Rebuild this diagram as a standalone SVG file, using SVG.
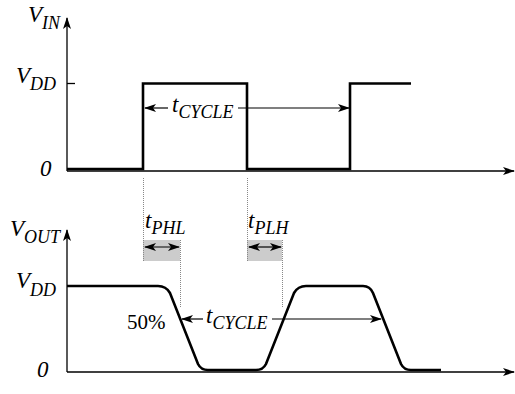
<svg xmlns="http://www.w3.org/2000/svg" width="515" height="394" viewBox="0 0 515 394">
<defs>
<style>
.axis{stroke:#000;stroke-width:1.3;fill:none;}
.wave{stroke:#000;stroke-width:2.6;fill:none;stroke-linejoin:miter;}
.arr{stroke:#000;stroke-width:1.2;fill:none;}
.dot{stroke:#888;stroke-width:1;stroke-dasharray:1 1;fill:none;}
.box{fill:#cccccc;}
</style>
<marker id="ah" viewBox="0 0 12 8" refX="11" refY="4" markerWidth="12" markerHeight="8" markerUnits="userSpaceOnUse" orient="auto-start-reverse">
<path d="M0,0 L12,4 L0,8 L3,4 Z" fill="#000"/>
</marker>
</defs>
<rect width="515" height="394" fill="#fff"/>

<g id="top-plot" font-family="'Liberation Serif', 'DejaVu Serif', serif" font-style="italic">
<line class="axis" x1="67" y1="171" x2="67" y2="18" marker-end="url(#ah)"/>
<line class="axis" x1="67" y1="171" x2="514" y2="171" marker-end="url(#ah)"/>
<line class="axis" x1="67" y1="83.5" x2="75" y2="83.5"/>
<text x="28" y="22" font-size="23">V<tspan dy="7" font-size="18">IN</tspan></text>
<text x="16" y="83" font-size="23">V<tspan dy="7" font-size="18">DD</tspan></text>
<text x="40" y="176" font-size="23">0</text>
</g>
<g id="vin-wave">
<path class="wave" d="M67,169 H143 V83.5 H247 V169 H350 V83.5 H411"/>
</g>

<g id="bottom-plot" font-family="'Liberation Serif', 'DejaVu Serif', serif" font-style="italic">
<line class="axis" x1="67" y1="372" x2="67" y2="230" marker-end="url(#ah)"/>
<line class="axis" x1="67" y1="372" x2="514" y2="372" marker-end="url(#ah)"/>
<text x="10" y="236" font-size="23">V<tspan dy="7" font-size="18">OUT</tspan></text>
<text x="16" y="288" font-size="23">V<tspan dy="8" font-size="18">DD</tspan></text>
<text x="37" y="377" font-size="23">0</text>
</g>
<g id="vout-wave">
<path class="wave" d="M67,286 H158 Q166,286 170,293 L198,364 Q201,370 208,370 H256 Q263,370 266,364 L294,293 Q298,286 306,286 H363 Q370,286 373,293 L401,364 Q404,370 411,370 H441"/>
</g>

<g id="tphl" font-family="'Liberation Serif', 'DejaVu Serif', serif" font-style="italic">
<rect class="box" x="143" y="240" width="37" height="21"/>
<text x="145" y="228" font-size="23">t<tspan dy="6" font-size="18">PHL</tspan></text>
</g>
<g id="tplh" font-family="'Liberation Serif', 'DejaVu Serif', serif" font-style="italic">
<rect class="box" x="247" y="240" width="35" height="21"/>
<text x="248" y="228" font-size="23">t<tspan dy="6" font-size="18">PLH</tspan></text>
</g>
<g id="tcycle-top" font-family="'Liberation Serif', 'DejaVu Serif', serif" font-style="italic">
<text x="172" y="112" font-size="23">t<tspan dy="6" font-size="18">CYCLE</tspan></text>
</g>
<g id="tcycle-bottom" font-family="'Liberation Serif', 'DejaVu Serif', serif">
<text x="127" y="329" font-size="21">50%</text>
<text x="206" y="323" font-size="23" font-style="italic">t<tspan dy="6" font-size="18">CYCLE</tspan></text>
</g>

<g id="connectors">
<line class="dot" x1="143.5" y1="178" x2="143.5" y2="261"/>
<line class="dot" x1="180.5" y1="240" x2="180.5" y2="307"/>
<line class="dot" x1="247.5" y1="178" x2="247.5" y2="261"/>
<line class="dot" x1="282.5" y1="240" x2="282.5" y2="307"/>
<line class="arr" x1="168" y1="108" x2="145" y2="108" marker-end="url(#ah)"/>
<line class="arr" x1="238" y1="108" x2="349" y2="108" marker-end="url(#ah)"/>
<line class="arr" x1="145" y1="247" x2="179" y2="247" marker-start="url(#ah)" marker-end="url(#ah)"/>
<line class="arr" x1="249" y1="247" x2="281" y2="247" marker-start="url(#ah)" marker-end="url(#ah)"/>
<line class="arr" x1="203" y1="319" x2="182" y2="319" marker-end="url(#ah)"/>
<line class="arr" x1="272" y1="319" x2="381" y2="319" marker-end="url(#ah)"/>
</g>
</svg>
